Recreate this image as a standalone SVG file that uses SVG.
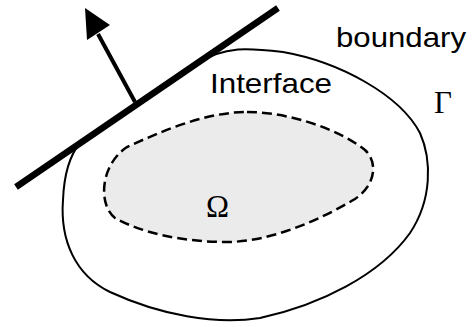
<svg xmlns="http://www.w3.org/2000/svg" width="475" height="327" viewBox="0 0 475 327">
<style>
.lbl{font-family:"Liberation Sans",Arial,sans-serif;font-size:28px;fill:#000}
.sym{font-family:"Liberation Serif","Times New Roman",serif;font-size:31px;fill:#000}
</style>
<rect width="475" height="327" fill="#fff"/>
<g id="omega-region">
<path d="M 247,112 C 290,112 340,130 365,150 C 378,162 376,185 355,199 C 320,220 270,242 227,242 C 180,242 140,232 115,218 C 98,205 100,165 127,147 C 160,132 205,112 247,112 Z" fill="#ebebeb" stroke="#000" stroke-width="2.5" stroke-dasharray="10,5"/>
</g>
<g id="boundary-curve">
<path d="M 80,143 L 195,64.5 C 225,45 250,48 283,52 C 340,62 400,95 420,133 C 432,160 432,200 410,233 C 380,275 320,305 260,318 C 215,325 160,315 110,292 C 75,275 60,240 63,200 C 64,175 70,155 80,143 Z" fill="none" stroke="#000" stroke-width="2"/>
</g>
<g id="connectors">
<line x1="16" y1="187" x2="278" y2="8" stroke="#000" stroke-width="6.5"/>
<line x1="135" y1="102" x2="98" y2="34" stroke="#000" stroke-width="4"/>
<polygon points="85,8 110,25 87,40" fill="#000"/>
</g>
<g id="labels">
<text class="lbl" x="336" y="47" textLength="130" lengthAdjust="spacingAndGlyphs">boundary</text>
<text class="lbl" x="210" y="93" textLength="122" lengthAdjust="spacingAndGlyphs">Interface</text>
<text class="sym" x="434" y="113">Γ</text>
<text class="sym" x="206" y="217">Ω</text>
</g>
</svg>
